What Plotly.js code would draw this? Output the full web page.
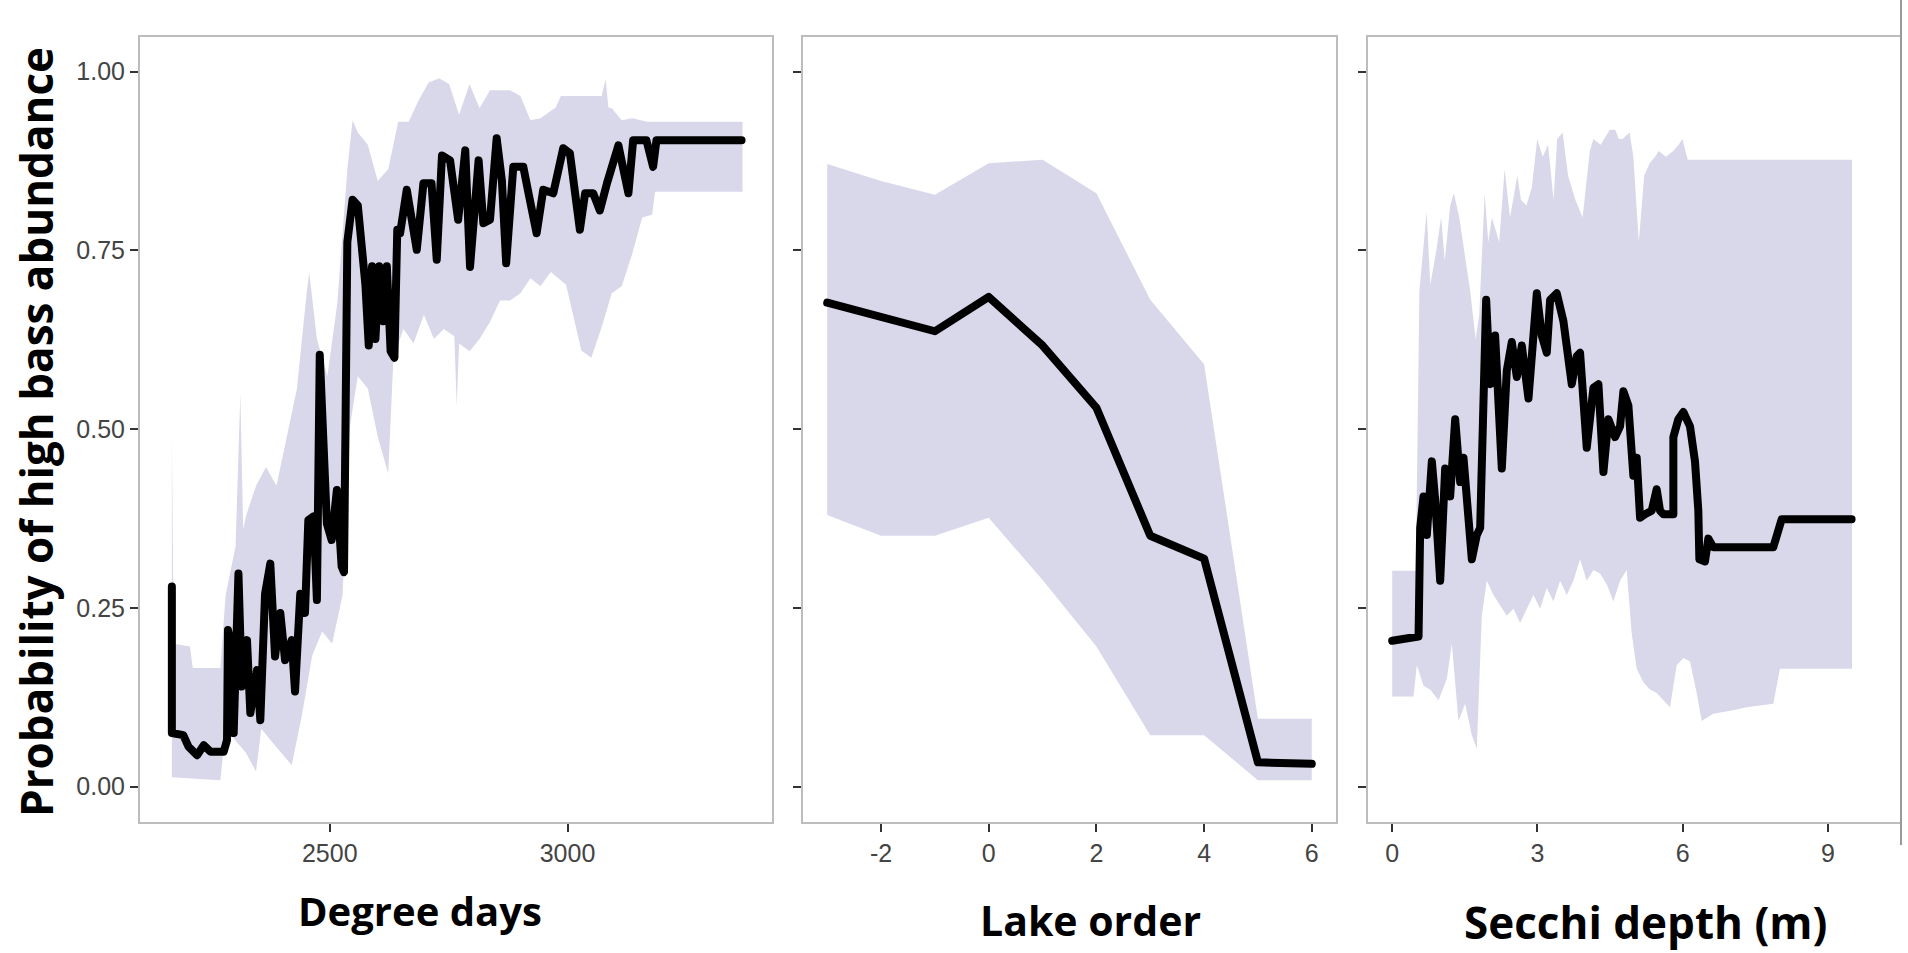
<!DOCTYPE html>
<html>
<head>
<meta charset="utf-8">
<script src="https://cdn.plot.ly/plotly-3.0.1.min.js"></script>
<style>
html,body{margin:0;padding:0;background:#fff;}
#chart{width:1908px;height:953px;}
path.js-line{stroke-linejoin:round !important;stroke-linecap:round !important;}
</style>
</head>
<body>
<div id="chart"></div>
<script>
// ---------- Panel 1: Degree days ----------
const ddX = [2168,2168,2192,2203,2221,2235,2249,2277,2284,2286,2294,2298,2308,2315,2326,2333,2347,2354,2364,2375,2385,2396,2406,2420,2427,2438,2448,2455,2466,2473,2479,2494,2504,2515,2525,2530,2537,2548,2559,2569,2575,2582,2589,2596,2604,2612,2620,2628,2636,2642,2648,2662,2683,2697,2714,2725,2736,2753,2770,2785,2795,2813,2823,2837,2851,2862,2871,2886,2907,2918,2935,2949,2970,2991,3005,3026,3037,3054,3068,3083,3093,3107,3128,3138,3166,3180,3187,3366];
const ddY = [0.280,0.075,0.072,0.056,0.044,0.058,0.049,0.049,0.065,0.219,0.196,0.075,0.298,0.140,0.205,0.103,0.163,0.093,0.270,0.312,0.182,0.243,0.177,0.205,0.133,0.270,0.243,0.373,0.378,0.261,0.604,0.368,0.345,0.415,0.308,0.300,0.762,0.821,0.813,0.745,0.702,0.617,0.728,0.626,0.728,0.651,0.728,0.609,0.600,0.779,0.774,0.835,0.751,0.844,0.844,0.737,0.883,0.876,0.793,0.890,0.727,0.876,0.788,0.793,0.907,0.848,0.732,0.867,0.867,0.830,0.774,0.835,0.830,0.893,0.886,0.779,0.830,0.830,0.806,0.844,0.867,0.897,0.830,0.904,0.904,0.867,0.904,0.904];
const ddUpX = [2168,2172,2206,2212,2270,2281,2302,2312,2318,2324,2345,2366,2388,2409,2431,2452,2457,2473,2495,2516,2537,2548,2559,2580,2601,2623,2644,2666,2687,2708,2730,2751,2772,2794,2815,2837,2858,2879,2901,2922,2943,2975,2986,3018,3040,3072,3080,3086,3093,3114,3136,3168,3184,3368];
const ddUp = [0.490,0.200,0.196,0.166,0.166,0.268,0.336,0.550,0.360,0.379,0.421,0.447,0.421,0.489,0.557,0.694,0.719,0.626,0.574,0.677,0.864,0.932,0.915,0.898,0.847,0.864,0.930,0.930,0.960,0.985,0.991,0.983,0.940,0.983,0.949,0.974,0.974,0.974,0.966,0.932,0.935,0.950,0.966,0.966,0.966,0.966,0.990,0.950,0.949,0.932,0.935,0.930,0.930,0.930];
const ddLoX = [2168,2270,2281,2302,2324,2345,2356,2377,2398,2420,2441,2463,2484,2505,2527,2543,2559,2580,2601,2623,2634,2655,2676,2698,2719,2740,2762,2767,2772,2794,2815,2837,2858,2879,2901,2922,2943,2965,2997,3029,3050,3072,3093,3114,3136,3157,3178,3184,3368];
const ddLo = [0.013,0.009,0.081,0.064,0.047,0.021,0.081,0.064,0.047,0.030,0.098,0.183,0.217,0.200,0.268,0.506,0.574,0.557,0.489,0.438,0.600,0.640,0.620,0.660,0.626,0.640,0.630,0.532,0.620,0.609,0.626,0.650,0.680,0.680,0.690,0.711,0.700,0.720,0.702,0.610,0.600,0.643,0.690,0.700,0.745,0.796,0.800,0.832,0.832];

// ---------- Panel 2: Lake order ----------
const loX = [-3,-2,-1,0,1,2,3,4,5,6];
const loY = [0.677,0.658,0.637,0.685,0.617,0.530,0.351,0.319,0.034,0.032];
const loUp = [0.871,0.847,0.828,0.872,0.877,0.830,0.681,0.591,0.095,0.095];
const loLo = [0.380,0.351,0.351,0.376,0.289,0.196,0.072,0.072,0.009,0.009];

// ---------- Panel 3: Secchi depth ----------
const sdX = [0.00,0.44,0.509,0.544,0.578,0.647,0.716,0.819,0.888,0.991,1.094,1.197,1.301,1.404,1.473,1.645,1.748,1.817,1.941,2.023,2.126,2.264,2.367,2.471,2.574,2.677,2.815,2.987,3.090,3.193,3.262,3.400,3.537,3.640,3.709,3.812,3.881,4.019,4.157,4.260,4.363,4.466,4.604,4.707,4.776,4.879,4.982,5.051,5.120,5.223,5.361,5.464,5.533,5.602,5.808,5.808,5.911,6.014,6.152,6.255,6.324,6.345,6.461,6.530,6.599,6.634,7.873,7.942,8.045,9.49];
const sdY = [0.204,0.207,0.207,0.210,0.362,0.406,0.352,0.455,0.401,0.288,0.445,0.406,0.514,0.426,0.460,0.318,0.352,0.362,0.681,0.563,0.631,0.445,0.582,0.622,0.573,0.617,0.543,0.690,0.631,0.607,0.681,0.690,0.651,0.587,0.563,0.602,0.607,0.474,0.558,0.563,0.440,0.514,0.489,0.504,0.553,0.533,0.435,0.460,0.376,0.381,0.386,0.416,0.386,0.381,0.381,0.489,0.514,0.524,0.504,0.455,0.386,0.318,0.315,0.347,0.337,0.335,0.335,0.352,0.374,0.374];
const sdUpX = [0.0,0.487,0.562,0.712,0.787,0.899,1.011,1.086,1.199,1.273,1.386,1.498,1.610,1.723,1.798,1.910,1.985,2.060,2.210,2.322,2.434,2.584,2.659,2.772,2.884,2.996,3.109,3.221,3.333,3.408,3.521,3.633,3.783,3.933,4.082,4.157,4.307,4.494,4.607,4.682,4.757,4.906,4.981,5.094,5.206,5.318,5.431,5.506,5.655,5.805,5.918,5.993,6.105,9.498];
const sdUp = [0.302,0.302,0.694,0.804,0.702,0.745,0.796,0.736,0.813,0.830,0.796,0.745,0.694,0.626,0.660,0.830,0.762,0.796,0.762,0.864,0.796,0.855,0.821,0.813,0.838,0.906,0.881,0.898,0.821,0.906,0.915,0.855,0.821,0.796,0.889,0.906,0.898,0.919,0.919,0.906,0.906,0.915,0.881,0.762,0.855,0.872,0.881,0.889,0.881,0.889,0.898,0.906,0.877,0.877];
const sdLoX = [0.0,0.440,0.509,0.647,0.784,0.957,1.129,1.232,1.369,1.507,1.645,1.748,1.851,1.954,2.092,2.230,2.367,2.505,2.642,2.780,2.918,3.055,3.193,3.331,3.468,3.606,3.743,3.881,4.019,4.156,4.294,4.432,4.569,4.707,4.844,4.948,5.051,5.188,5.326,5.464,5.601,5.739,5.877,6.014,6.152,6.290,6.393,6.634,7.047,7.322,7.873,8.010,9.498];
const sdLo = [0.126,0.126,0.170,0.141,0.136,0.121,0.151,0.200,0.092,0.116,0.072,0.053,0.239,0.288,0.268,0.254,0.239,0.249,0.229,0.249,0.268,0.249,0.278,0.259,0.288,0.268,0.288,0.318,0.288,0.303,0.298,0.283,0.259,0.288,0.303,0.214,0.165,0.146,0.136,0.131,0.121,0.111,0.170,0.180,0.175,0.131,0.092,0.102,0.107,0.111,0.116,0.165,0.165];

// ---------- Axis text ----------
const yTickVals = [0, 0.25, 0.5, 0.75, 1];
const yTickText = ['0.00', '0.25', '0.50', '0.75', '1.00'];
const ddTickVals = [2500, 3000];
const ddTickText = ['2500', '3000'];
const loTickVals = [-2, 0, 2, 4, 6];
const loTickText = ['-2', '0', '2', '4', '6'];
const sdTickVals = [0, 3, 6, 9];
const sdTickText = ['0', '3', '6', '9'];
const yTitle = 'Probability of high bass abundance';
const xTitles = ['Degree days', 'Lake order', 'Secchi depth (m)'];

// ---------- Style ----------
const W = 1908, H = 953;
const bandColor = '#d9d8ea';
const lineW = 8;
const px = v => v / W;
const py = v => 1 - v / H;

function band(x, lo, xu, up, xa, ya) {
  return [
    {x: x, y: lo, xaxis: xa, yaxis: ya, mode: 'lines', line: {width: 0, color: bandColor}, hoverinfo: 'skip', showlegend: false},
    {x: xu, y: up, xaxis: xa, yaxis: ya, mode: 'lines', fill: 'tonexty', fillcolor: bandColor, line: {width: 0, color: bandColor}, hoverinfo: 'skip', showlegend: false}
  ];
}
function mainLine(x, y, xa, ya) {
  return {x: x, y: y, xaxis: xa, yaxis: ya, mode: 'lines', line: {color: '#000', width: lineW}, showlegend: false};
}

const data = [
  ...band(ddLoX, ddLo, ddUpX, ddUp, 'x', 'y'),
  mainLine(ddX, ddY, 'x', 'y'),
  ...band(loX, loLo, loX, loUp, 'x2', 'y2'),
  mainLine(loX, loY, 'x2', 'y2'),
  ...band(sdLoX, sdLo, sdUpX, sdUp, 'x3', 'y3'),
  mainLine(sdX, sdY, 'x3', 'y3')
];

const tickFont = {family: 'Liberation Sans, Arial, sans-serif', size: 25, color: '#444'};
function xax(domain, range, tv, tt) {
  return {domain: domain, range: range, tickvals: tv, ticktext: tt, showgrid: false, zeroline: false,
    showline: true, mirror: true, linecolor: '#bdbdbd', linewidth: 2,
    ticks: 'outside', ticklen: 8, tickwidth: 2, tickcolor: '#333', tickfont: tickFont};
}
function yax(showLabels, xanchor) {
  return {domain: [py(821.7), py(36.7)], range: [-0.049, 1.049], tickvals: yTickVals, ticktext: yTickText,
    showticklabels: showLabels, showgrid: false, zeroline: false,
    showline: true, mirror: true, linecolor: '#bdbdbd', linewidth: 2,
    ticks: 'outside', ticklen: 8, tickwidth: 2, tickcolor: '#333', tickfont: tickFont, anchor: xanchor};
}
const titleFont = s => ({family: 'Open Sans, sans-serif', size: s, color: '#000', weight: 700});

const layout = {
  width: W, height: H,
  margin: {l: 0, r: 0, t: 0, b: 0},
  paper_bgcolor: '#fff', plot_bgcolor: '#fff',
  showlegend: false,
  xaxis: Object.assign(xax([px(140), px(772)], [2101, 3430], ddTickVals, ddTickText), {anchor: 'y'}),
  xaxis2: Object.assign(xax([px(803), px(1336)], [-3.45, 6.45], loTickVals, loTickText), {anchor: 'y2'}),
  xaxis3: Object.assign(xax([px(1368), px(1900)], [-0.5, 10.49], sdTickVals, sdTickText), {anchor: 'y3'}),
  yaxis: yax(true, 'x'),
  yaxis2: yax(false, 'x2'),
  yaxis3: yax(false, 'x3'),
  annotations: [
    {text: yTitle, xref: 'paper', yref: 'paper', x: px(36), y: py(432), textangle: -90, showarrow: false,
     xanchor: 'center', yanchor: 'middle', font: titleFont(44)},
    {text: xTitles[0], xref: 'paper', yref: 'paper', x: px(420), y: py(910), showarrow: false,
     xanchor: 'center', yanchor: 'middle', font: titleFont(40)},
    {text: xTitles[1], xref: 'paper', yref: 'paper', x: px(1090), y: py(920), showarrow: false,
     xanchor: 'center', yanchor: 'middle', font: titleFont(41)},
    {text: xTitles[2], xref: 'paper', yref: 'paper', x: px(1645), y: py(922), showarrow: false,
     xanchor: 'center', yanchor: 'middle', font: titleFont(44)}
  ],
  shapes: [
    {type: 'line', xref: 'paper', yref: 'paper', x0: px(1901), x1: px(1901), y0: py(0), y1: py(845),
     line: {color: '#9a9a9a', width: 2}}
  ]
};

Plotly.newPlot('chart', data, layout, {displayModeBar: false, staticPlot: true});
</script>
</body>
</html>
